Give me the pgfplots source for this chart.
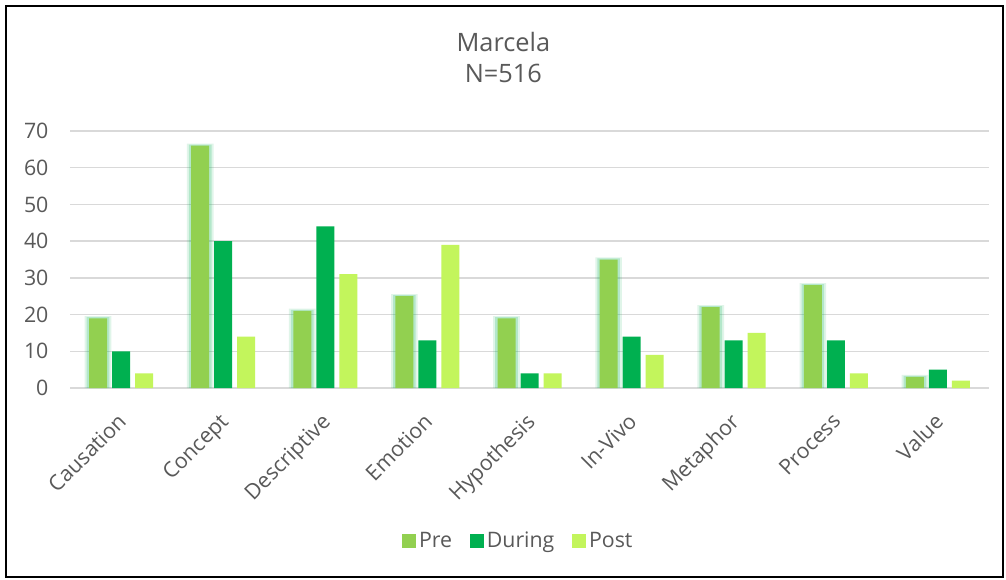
\documentclass[border=0pt]{standalone}
\usepackage{fontspec}
\setmainfont{Open Sans}
\usepackage{pgfplots}
\usepackage{pgfplotstable}
\pgfplotsset{compat=1.18}

\definecolor{preC}{HTML}{92D050}
\definecolor{durC}{HTML}{00B050}
\definecolor{postC}{HTML}{C3F55C}
\definecolor{txtC}{HTML}{595959}
\definecolor{gridC}{HTML}{D9D9D9}

% codes per category: Pre, During, Post
\pgfplotstableread{
x pre during post
0 19 10 4
1 66 40 14
2 21 44 31
3 25 13 39
4 19 4 4
5 35 14 9
6 22 13 15
7 28 13 4
8 3 5 2
}\codes

\begin{document}
\begin{tikzpicture}
% page and outer frame
\fill[white] (0,0) rectangle (754.5pt,-434.25pt);
\draw[black, line width=1.3pt] (4.5pt,-4.5pt) rectangle (752pt,-432.75pt);

\node[text=txtC, font=\fontsize{19}{23}\selectfont, align=center] at (377.5pt,-43pt) {Marcela\\N=516};

\begin{axis}[
  at={(52.5pt,-291pt)}, anchor=south west,
  scale only axis, width=689.25pt, height=192.75pt,
  ybar, bar width=13.5pt,
  xmin=-0.5, xmax=8.5, ymin=0, ymax=70,
  ytick={0,10,...,70},
  xtick=data,
  xticklabels={Causation,Concept,Descriptive,Emotion,Hypothesis,In-Vivo,Metaphor,Process,Value},
  axis line style={draw=none},
  major tick length=0pt,
  ymajorgrids, grid style={gridC, line width=1.1pt},
  /pgf/number format/assume math mode=true,
  tick label style={text=txtC, font=\fontsize{16}{19}\selectfont},
  yticklabel style={inner sep=0pt, xshift=-16pt},
  xticklabel style={rotate=45, anchor=north east, inner sep=0pt, xshift=-15pt, yshift=-10pt},
  legend style={draw=none, at={(0.488,-0.595)}, anchor=center,
    legend columns=3, font=\fontsize{16}{19}\selectfont, text=txtC,
    /tikz/every even column/.append style={column sep=11pt}},
  legend image code/.code={\fill[#1] (-4pt,-5.5pt) rectangle (7pt,5.5pt);},
  clip=false,
]
% soft glow behind the Pre bars
\addplot[forget plot, fill=durC, fill opacity=0.12, draw=none, bar width=20pt, bar shift=-17.25pt] table[x=x,y expr=\thisrow{pre}+0.6] {\codes};
\addplot[forget plot, fill=durC, fill opacity=0.20, draw=none, bar width=17pt, bar shift=-17.25pt] table[x=x,y expr=\thisrow{pre}+0.3] {\codes};
\addplot[fill=preC, draw=none, bar shift=-17.25pt] table[x=x,y=pre] {\codes};
\addplot[fill=durC, draw=none, bar shift=0pt] table[x=x,y=during] {\codes};
\addplot[fill=postC, draw=none, bar shift=17.25pt] table[x=x,y=post] {\codes};
\legend{Pre,During,Post}
\end{axis}
\end{tikzpicture}
\end{document}
